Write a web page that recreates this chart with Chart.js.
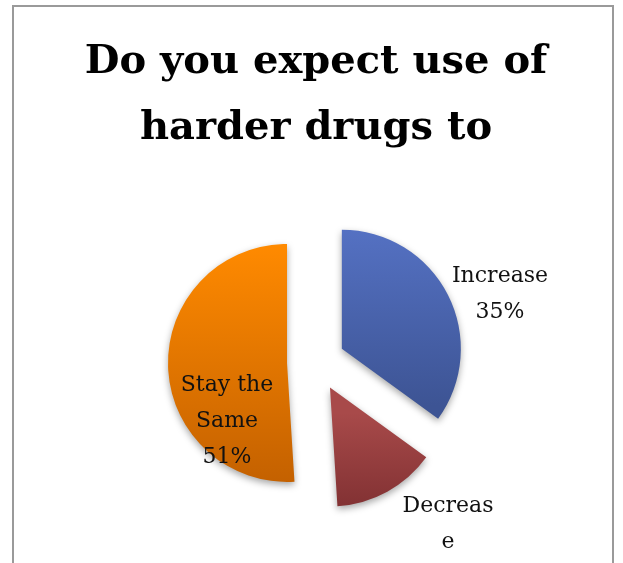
<!DOCTYPE html>
<html>
<head>
<meta charset="utf-8">
<script src="https://cdn.jsdelivr.net/npm/chart.js@4/dist/chart.umd.min.js"></script>
<style>
  html, body { margin: 0; padding: 0; background: #fff; }
  #wrap { width: 623px; height: 563px; }
</style>
</head>
<body>
<div id="wrap"><canvas id="myChart" width="623" height="563"></canvas></div>
<script>
const titleLines = ["Do you expect use of", "harder drugs to"];
const labels = ["Increase", "Decrease", "Stay the Same"];
const values = [35, 14, 51];
// top / bottom colours of each slice gradient
const topColors = ["#5673c6", "#a84a4a", "#ff8a00"];
const bottomColors = ["#3d5494", "#782b2d", "#c46100"];
// the text the chart shows next to each slice
const sliceText = [["Increase", "35%"], ["Decreas", "e"], ["Stay the", "Same", "51%"]];

const EXPLODE = 29; // px each slice is pulled out

// border round the chart + title
const frame = {
  id: "frame",
  beforeDraw(chart) {
    const c = chart.ctx;
    c.save();
    c.strokeStyle = "#9a9a9a";
    c.lineWidth = 2;
    c.strokeRect(13, 6, 600, 620);
    c.fillStyle = "#000";
    c.textAlign = "center";
    c.textBaseline = "middle";
    // size the title so the first line is as wide as in the original
    c.font = 'bold 48px "DejaVu Serif", serif';
    const w = c.measureText(titleLines[0]).width;
    const size = Math.round(48 * 457 / w);
    c.font = 'bold ' + size + 'px "DejaVu Serif", serif';
    titleLines.forEach((t, k) => c.fillText(t, 316, 63 + k * 66));
    c.restore();
  },
};

// Chart.js offset also grows big slices, so pull them out by hand
const explode = {
  id: "explode",
  afterUpdate(chart) {
    chart.getDatasetMeta(0).data.forEach((arc) => {
      if (arc._wrapped) return;
      arc._wrapped = true;
      const baseDraw = arc.draw;
      arc.draw = function (c, area) {
        const mid = (this.startAngle + this.endAngle) / 2;
        c.save();
        c.translate(Math.cos(mid) * EXPLODE, Math.sin(mid) * EXPLODE);
        baseDraw.call(this, c, area);
        c.restore();
      };
    });
  },
};

// vertical gradient per slice + soft shadow
const shading = {
  id: "shading",
  beforeDatasetsDraw(chart) {
    const c = chart.ctx;
    const arcs = chart.getDatasetMeta(0).data;
    arcs.forEach((arc, i) => {
      const p = arc.getProps(["x", "y", "startAngle", "endAngle", "outerRadius"], true);
      const mid = (p.startAngle + p.endAngle) / 2;
      const cx = p.x + Math.cos(mid) * EXPLODE;
      const cy = p.y + Math.sin(mid) * EXPLODE;
      let ys = [cy];
      for (let a = p.startAngle; a <= p.endAngle; a += 0.02) {
        ys.push(cy + Math.sin(a) * p.outerRadius);
      }
      ys.push(cy + Math.sin(p.endAngle) * p.outerRadius);
      const g = c.createLinearGradient(0, Math.min(...ys), 0, Math.max(...ys));
      g.addColorStop(0, topColors[i]);
      g.addColorStop(1, bottomColors[i]);
      arc.options.backgroundColor = g;
    });
    c.save();
    c.shadowColor = "rgba(0,0,0,0.35)";
    c.shadowBlur = 7;
    c.shadowOffsetY = 3;
  },
  afterDatasetsDraw(chart) {
    chart.ctx.restore();
  },
};

// slice labels, placed like the original
const sliceLabels = {
  id: "sliceLabels",
  afterDatasetsDraw(chart) {
    const c = chart.ctx;
    const arcs = chart.getDatasetMeta(0).data;
    const shift = [[184, -67.5], [132, 162.5], [-89, 59]];
    c.save();
    c.font = '22px "DejaVu Serif", serif';
    c.fillStyle = "#111";
    c.textAlign = "center";
    c.textBaseline = "middle";
    arcs.forEach((arc, i) => {
      const lines = sliceText[i];
      const lh = 36;
      const x = arc.x + shift[i][0];
      const y0 = arc.y + shift[i][1] - ((lines.length - 1) * lh) / 2;
      lines.forEach((t, k) => c.fillText(t, x, y0 + k * lh));
    });
    c.restore();
  },
};

const ctx = document.getElementById("myChart").getContext("2d");
const myChart = new Chart(ctx, {
  type: "pie",
  data: {
    labels: labels,
    datasets: [
      {
        data: values,
        backgroundColor: topColors,
        borderWidth: 0,
      },
    ],
  },
  options: {
    responsive: false,
    animation: false,
    layout: { padding: { left: 197, right: 188, top: 243, bottom: 82 } },
    plugins: {
      legend: { display: false },
      tooltip: { enabled: false },
      title: { display: false },
    },
  },
  plugins: [frame, explode, shading, sliceLabels],
});
</script>
</body>
</html>
